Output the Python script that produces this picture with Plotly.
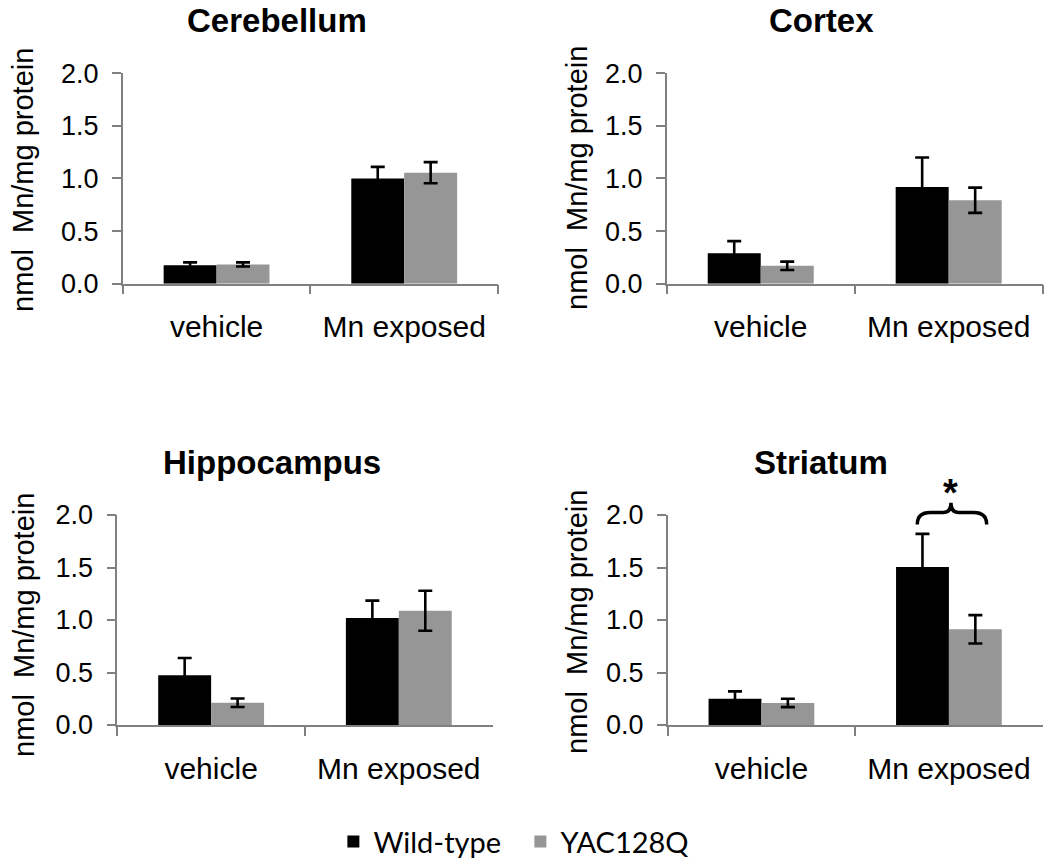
import plotly.graph_objects as go

# ---------------- data ----------------
categories = ["vehicle", "Mn exposed"]
series_names = ["Wild-type", "YAC128Q"]
panel_titles = ["Cerebellum", "Cortex", "Hippocampus", "Striatum"]

cerebellum_wt = [0.175, 1.00]
cerebellum_wt_err = [0.028, 0.11]
cerebellum_yac = [0.183, 1.055]
cerebellum_yac_err = [0.02, 0.10]

cortex_wt = [0.29, 0.92]
cortex_wt_err = [0.115, 0.28]
cortex_yac = [0.17, 0.793]
cortex_yac_err = [0.04, 0.12]

hippocampus_wt = [0.473, 1.02]
hippocampus_wt_err = [0.165, 0.165]
hippocampus_yac = [0.212, 1.088]
hippocampus_yac_err = [0.04, 0.19]

striatum_wt = [0.25, 1.505]
striatum_wt_err = [0.07, 0.315]
striatum_yac = [0.21, 0.912]
striatum_yac_err = [0.04, 0.135]

y_ticks = [0.0, 0.5, 1.0, 1.5, 2.0]
y_title = "nmol\u00a0 Mn/mg protein"
significance_label = "*"

# ---------------- style ----------------
WT_COLOR = "#000000"
YAC_COLOR = "#969696"
AXIS_COLOR = "#808080"
ARIAL = "Liberation Sans, Arial, Helvetica, sans-serif"
LEGEND_FONT = "Lato, Carlito, Calibri, sans-serif"

x_domains = [[0.1169, 0.4743], [0.6350, 0.9930], [0.1117, 0.4692], [0.6359, 0.9930]]
y_domains = [[0.6724, 0.9154], [0.6724, 0.9154], [0.1628, 0.4053], [0.1628, 0.4053]]

panels = [
    (cerebellum_wt, cerebellum_wt_err, cerebellum_yac, cerebellum_yac_err),
    (cortex_wt, cortex_wt_err, cortex_yac, cortex_yac_err),
    (hippocampus_wt, hippocampus_wt_err, hippocampus_yac, hippocampus_yac_err),
    (striatum_wt, striatum_wt_err, striatum_yac, striatum_yac_err),
]

fig = go.Figure()

for i, (wt, wt_err, yac, yac_err) in enumerate(panels):
    suffix = "" if i == 0 else str(i + 1)
    xa, ya = "x" + suffix, "y" + suffix
    for name, vals, errs, color in [
        (series_names[0], wt, wt_err, WT_COLOR),
        (series_names[1], yac, yac_err, YAC_COLOR),
    ]:
        fig.add_trace(go.Bar(
            x=categories, y=vals, name=name,
            marker=dict(color=color, line=dict(width=0)),
            error_y=dict(type="data", array=errs, symmetric=True,
                         color="#000000", thickness=2.6, width=7),
            xaxis=xa, yaxis=ya,
            showlegend=(i == 0), legendgroup=name,
        ))

layout = dict(
    width=1050, height=866,
    margin=dict(l=0, r=0, t=0, b=0, autoexpand=False),
    paper_bgcolor="white", plot_bgcolor="white",
    barmode="group", bargap=0.436, bargroupgap=0,
    showlegend=True,
    legend=dict(orientation="h", x=0.4956, xanchor="center", y=0.028, yanchor="middle",
                font=dict(family=LEGEND_FONT, size=29, color="#000000"),
                traceorder="normal", entrywidth=142, entrywidthmode="pixels"),
)

annotations = []
for i in range(4):
    suffix = "" if i == 0 else str(i + 1)
    layout["xaxis" + suffix] = dict(
        domain=x_domains[i], anchor="y" + suffix, type="category",
        range=[-0.5, 1.5], tickson="boundaries",
        ticks="outside", ticklen=9, tickwidth=1.5, tickcolor=AXIS_COLOR,
        showline=True, linecolor=AXIS_COLOR, linewidth=1.5,
        showgrid=False, zeroline=False,
        tickfont=dict(family=ARIAL, size=30, color="#000000"),
        ticklabelstandoff=16,
    )
    layout["yaxis" + suffix] = dict(
        domain=y_domains[i], anchor="x" + suffix,
        range=[0, 2], tickvals=y_ticks, tickformat=".1f",
        ticks="outside", ticklen=9, tickwidth=1.5, tickcolor=AXIS_COLOR,
        showline=True, linecolor=AXIS_COLOR, linewidth=1.5,
        showgrid=False, zeroline=False,
        tickfont=dict(family=ARIAL, size=27, color="#000000"),
        ticklabelstandoff=8,
    )

# panel titles
title_pos = [(0.2638, 0.976), (0.782, 0.976), (0.2595, 0.4654), (0.782, 0.4654)]
for t, (px, py) in zip(panel_titles, title_pos):
    annotations.append(dict(text="<b>" + t + "</b>", x=px, y=py, xref="paper", yref="paper",
                            xanchor="center", yanchor="middle", showarrow=False,
                            font=dict(family=ARIAL, size=33, color="#000000")))

# y-axis titles
ytitle_pos = [(23 / 1050, 1 - 180 / 866), (577 / 1050, 1 - 178 / 866),
              (24 / 1050, 1 - 625 / 866), (577 / 1050, 1 - 622 / 866)]
for (px, py) in ytitle_pos:
    annotations.append(dict(text=y_title, x=px, y=py, xref="paper", yref="paper",
                            xanchor="center", yanchor="middle", showarrow=False, textangle=-90,
                            font=dict(family=ARIAL, size=29, color="#000000")))

# significance brace + asterisk on Striatum panel (panel 4)
xd, yd = x_domains[3], y_domains[3]
def px_(f):
    return xd[0] + f * (xd[1] - xd[0])
def py_(f):
    return yd[0] + f * (yd[1] - yd[0])

xL, xM, xR = 0.6656, 0.7555, 0.8507
yE, yS, yT = 0.955, 1.012, 1.058
q1, q2 = 0.035, 0.02
path = (
    f"M {px_(xL)},{py_(yE)} "
    f"Q {px_(xL)},{py_(yS)} {px_(xL + q1)},{py_(yS)} "
    f"L {px_(xM - q2)},{py_(yS)} "
    f"Q {px_(xM)},{py_(yS)} {px_(xM)},{py_(yT)} "
    f"Q {px_(xM)},{py_(yS)} {px_(xM + q2)},{py_(yS)} "
    f"L {px_(xR - q1)},{py_(yS)} "
    f"Q {px_(xR)},{py_(yS)} {px_(xR)},{py_(yE)}"
)
layout["shapes"] = [dict(type="path", path=path, xref="paper", yref="paper",
                         line=dict(color="#000000", width=3.5))]

annotations.append(dict(text="<b>" + significance_label + "</b>", x=px_(xM), y=1 - 493 / 866,
                        xref="paper", yref="paper", xanchor="center", yanchor="middle",
                        showarrow=False, font=dict(family=ARIAL, size=38, color="#000000")))

layout["annotations"] = annotations
fig.update_layout(**layout)

fig.write_html("out.html", config={"displayModeBar": False},
               post_script="document.body.style.margin='0';")
